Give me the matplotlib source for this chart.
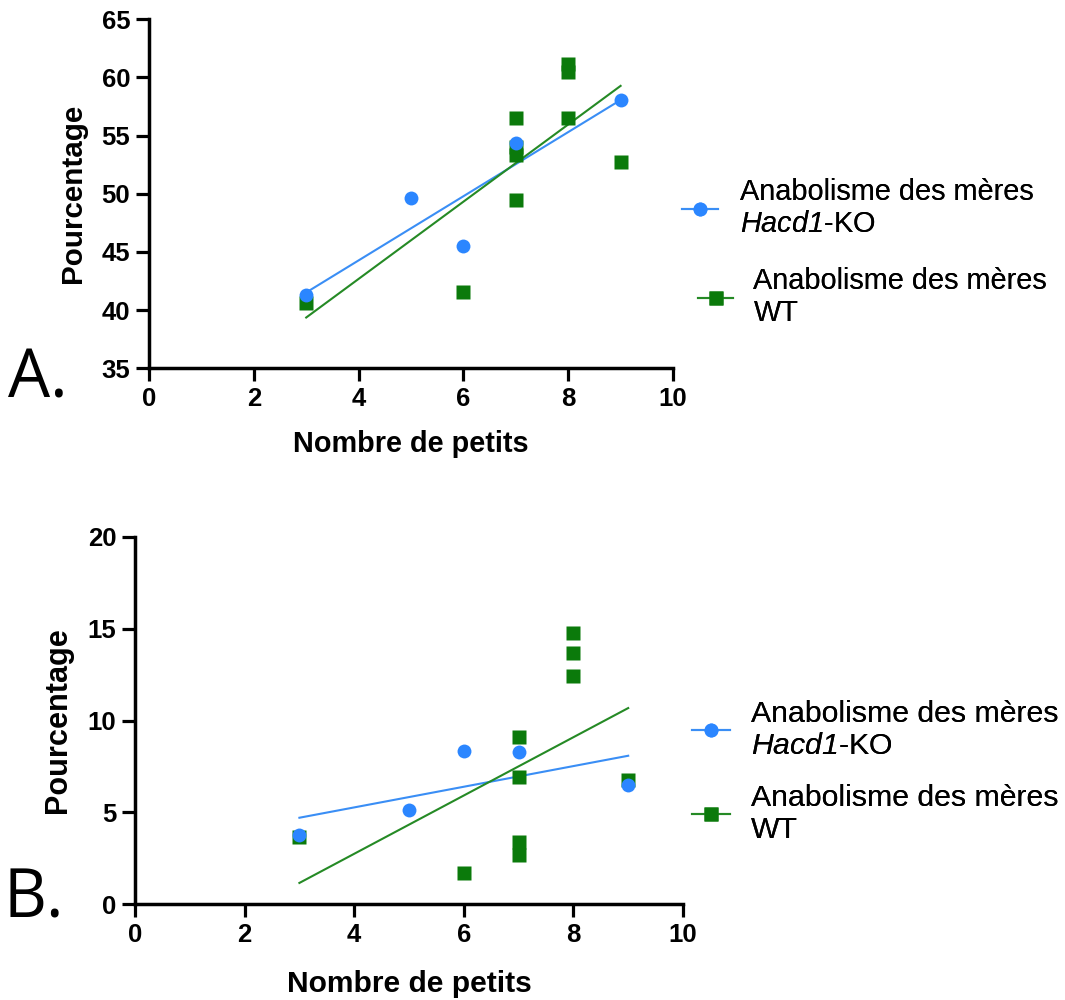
import numpy as np
import matplotlib
matplotlib.use("Agg")
import matplotlib.pyplot as plt

plt.rcParams['font.family'] = ['Liberation Sans', 'DejaVu Sans']
plt.rcParams['mathtext.fontset'] = 'custom'
plt.rcParams['mathtext.rm'] = 'Liberation Sans:italic'
plt.rcParams['mathtext.it'] = 'Liberation Sans:italic'

# Panel A : anabolisme (%) vs nombre de petits
a_ko_x = [3, 5, 6, 7, 9]
a_ko_y = [41.3, 49.65, 45.5, 54.4, 58.1]
a_wt_x = [3, 6, 7, 7, 7, 7, 8, 8, 8, 9]
a_wt_y = [40.6, 41.6, 56.5, 54.0, 53.3, 49.45, 61.2, 60.5, 56.55, 52.7]

# Panel B
b_ko_x = [3, 5, 6, 7, 9]
b_ko_y = [3.77, 5.1, 8.35, 8.26, 6.47]
b_wt_x = [3, 6, 7, 7, 7, 7, 8, 8, 8, 9]
b_wt_y = [3.64, 1.68, 9.12, 6.93, 3.36, 2.67, 14.75, 13.66, 12.45, 6.75]

x_ticks = [0, 2, 4, 6, 8, 10]
a_yticks = [35, 40, 45, 50, 55, 60, 65]
b_yticks = [0, 5, 10, 15, 20]

ko_label = "Anabolisme des mères\n$Hacd1$-KO"
wt_label = "Anabolisme des mères\nWT"

BLUE = '#2b86ff'
BLUE_LINE = '#3a8ef5'
GREEN = '#0b7a0b'
GREEN_LINE = '#258a25'

W, H = 1065, 1000
fig = plt.figure(figsize=(W / 100, H / 100), dpi=100)


def fit_line(ax, x, y, color):
    slope, intercept = np.polyfit(x, y, 1)
    xs = np.array([min(x), max(x)])
    ax.plot(xs, slope * xs + intercept, color=color, lw=1.5, zorder=2)


def draw_panel(rect, ko_x, ko_y, wt_x, wt_y, yticks, xlab_y, ylab_x, lab_fs):
    ax = fig.add_axes(rect)
    fit_line(ax, ko_x, ko_y, BLUE_LINE)
    fit_line(ax, wt_x, wt_y, GREEN_LINE)
    ax.plot(wt_x, wt_y, 's', color=GREEN, ms=10, mec='none', zorder=3)
    ax.plot(ko_x, ko_y, 'o', color=BLUE, ms=10, mec='none', zorder=4)

    ax.set_xlim(x_ticks[0], x_ticks[-1])
    ax.set_ylim(yticks[0], yticks[-1])
    ax.set_xticks(x_ticks)
    ax.set_yticks(yticks)
    for s in ['top', 'right']:
        ax.spines[s].set_visible(False)
    for s in ['left', 'bottom']:
        ax.spines[s].set_linewidth(2.5)
    ax.tick_params(length=9.5, width=2.3, pad=4, labelsize=18.5)
    for lab in ax.get_xticklabels() + ax.get_yticklabels():
        lab.set_fontweight('bold')

    ax.set_xlabel('Nombre de petits', fontsize=lab_fs, fontweight='bold')
    ax.set_ylabel('Pourcentage', fontsize=lab_fs + 0.5, fontweight='bold')
    ax.xaxis.set_label_coords(0.5, xlab_y)
    ax.yaxis.set_label_coords(ylab_x, 0.5)
    return ax


def legend_entry(marker, color, lcolor, label, x_px, y_px, fs, hl, pad):
    h = plt.Line2D([], [], color=lcolor, lw=1.5, marker=marker, ms=10,
                   mfc=color, mec='none')
    leg = fig.legend([h], [label], loc='center left',
                     bbox_to_anchor=(x_px / W, 1 - y_px / H),
                     frameon=False, fontsize=fs, borderpad=0,
                     borderaxespad=0, handlelength=hl, handletextpad=pad)
    fig.add_artist(leg)


# panel A : axes from x=149..673 px, y=19..368 px
draw_panel([149 / W, 1 - 368.3 / H, 524 / W, 349 / H],
           a_ko_x, a_ko_y, a_wt_x, a_wt_y, a_yticks, -0.177, -0.118, 20.8)
# panel B : axes from x=135..683 px, y=537..904 px
draw_panel([135 / W, 1 - 904 / H, 548 / W, 367 / H],
           b_ko_x, b_ko_y, b_wt_x, b_wt_y, b_yticks, -0.18, -0.113, 21.6)

legend_entry('o', BLUE, BLUE_LINE, ko_label, 682, 208, 20.8, 1.25, 0.76)
legend_entry('s', GREEN, GREEN_LINE, wt_label, 698, 297, 20.8, 1.22, 0.7)
legend_entry('o', BLUE, BLUE_LINE, ko_label, 692, 730, 21.8, 1.24, 0.72)
legend_entry('s', GREEN, GREEN_LINE, wt_label, 692, 814, 21.8, 1.24, 0.72)

fig.text(8 / W, 1 - 397 / H, 'A.', fontsize=48, family='Open Sans', va='baseline')
fig.text(3 / W, 1 - 918 / H, 'B.', fontsize=48, family='Open Sans', va='baseline')

fig.savefig('out.png', dpi=100)
